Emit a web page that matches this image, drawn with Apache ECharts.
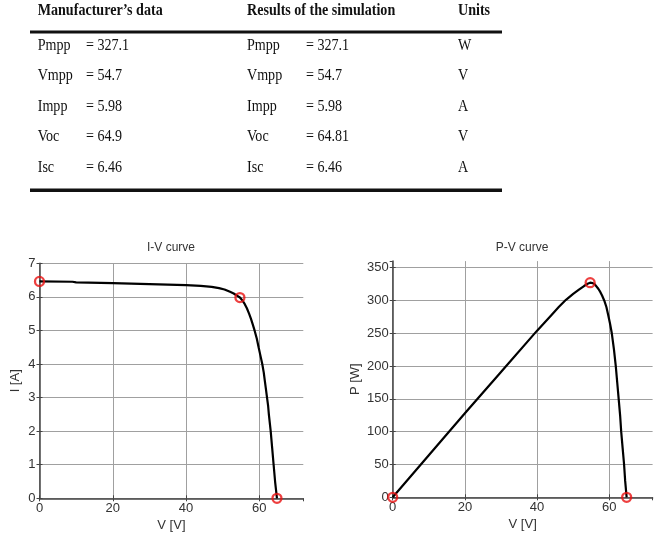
<!DOCTYPE html>
<html lang="en">
<head>
<meta charset="UTF-8">
<title>I-V and P-V curves</title>
<script src="https://cdn.jsdelivr.net/npm/echarts@6/dist/echarts.min.js"></script>
<style>
  body { margin: 0; background: #fff; }
  #main { width: 656px; height: 540px; }
</style>
</head>
<body>
<div id="main"></div>
<script>
// table data
var tableHeaders = ['Manufacturer\u2019s data', 'Results of the simulation', 'Units'];
var paramNames = ['Pmpp', 'Vmpp', 'Impp', 'Voc', 'Isc'];
var manufacturerValues = ['327.1', '54.7', '5.98', '64.9', '6.46'];
var simulationValues = ['327.1', '54.7', '5.98', '64.81', '6.46'];
var unitNames = ['W', 'V', 'A', 'V', 'A'];

// I-V curve
var ivVolt = [0, 9, 10, 20, 30, 40, 44, 47, 49, 50.5, 52, 53, 54, 54.7, 55.4, 56, 56.6, 57.2, 57.7, 58.2, 58.7, 59.3, 59.8, 60.3, 60.8, 61.2, 61.5, 61.8, 62.1, 62.4, 62.6, 63.1, 63.5, 63.9, 64.3, 64.81];
var ivCurr = [6.46, 6.45, 6.43, 6.41, 6.38, 6.35, 6.33, 6.30, 6.26, 6.22, 6.15, 6.10, 6.03, 5.98, 5.89, 5.79, 5.66, 5.5, 5.35, 5.18, 5.0, 4.76, 4.5, 4.25, 4.0, 3.75, 3.5, 3.25, 3.0, 2.75, 2.5, 2.0, 1.5, 1.0, 0.5, 0];

// P-V curve
var pvVolt = [0, 10, 20, 30, 40, 44, 46, 48, 50, 51.5, 53, 54, 54.7, 55.4, 56, 56.5, 57, 57.5, 58, 58.6, 59.2, 59.7, 60.2, 60.7, 61.3, 61.8, 62.2, 62.6, 63.0, 63.3, 63.7, 64.1, 64.4, 64.81];
var pvPower = [0, 64, 128, 191, 254, 278, 290, 301, 310, 316, 322, 325.5, 327.1, 326.5, 324.5, 321.5, 317.5, 313, 307.5, 300, 290, 278, 265, 250, 225, 200, 175, 150, 125, 100, 75, 50, 25, 0];

// marked points: Isc, MPP, Voc
var markVolt = [0, 54.7, 64.81];
var markCurr = [6.46, 5.98, 0];
var markPower = [0, 327.1, 0];

function pairs(xs, ys) {
  return xs.map(function (x, i) { return [x, ys[i]]; });
}

var myChart = echarts.init(document.getElementById('main'));

// table drawn as graphic text
var graphics = [];
var serifBold = 'bold 16px "Liberation Serif"';
var serif = '16px "Liberation Serif"';
var headerX = [37.7, 247, 458];
var rowY = [45.3, 75.8, 106.7, 136.3, 167.8];
function addText(x, y, text, font) {
  graphics.push({
    type: 'text', x: x, y: y, scaleX: 0.88, originX: 0, originY: 0,
    style: { text: text, font: font, fill: '#111', align: 'left', verticalAlign: 'middle' }
  });
}
tableHeaders.forEach(function (h, i) { addText(headerX[i], 10.5, h, serifBold); });
paramNames.forEach(function (p, i) {
  addText(37.7, rowY[i], p, serif);
  addText(86, rowY[i], '= ' + manufacturerValues[i], serif);
  addText(247, rowY[i], p, serif);
  addText(306, rowY[i], '= ' + simulationValues[i], serif);
  addText(458, rowY[i], unitNames[i], serif);
});
graphics.push({ type: 'rect', shape: { x: 30, y: 30.5, width: 472, height: 3 }, style: { fill: '#111' } });
graphics.push({ type: 'rect', shape: { x: 30, y: 188.5, width: 472, height: 3.5 }, style: { fill: '#111' } });

var labelStyle = { color: '#333', fontSize: 13, fontFamily: 'Liberation Sans' };
var nameStyle = { color: '#333', fontSize: 13, fontFamily: 'Liberation Sans' };

function mainX(gi) {
  return {
    type: 'value', gridIndex: gi, min: 0, max: 72, interval: 20,
    name: 'V [V]', nameLocation: 'middle', nameGap: 21, nameTextStyle: nameStyle,
    axisLine: { show: true, onZero: false, lineStyle: { color: '#444', width: 1.5 } },
    axisTick: { show: true, inside: true, length: 3, lineStyle: { color: '#444' } },
    axisLabel: Object.assign({ margin: 4, showMaxLabel: false }, labelStyle),
    splitLine: { show: true, showMaxLine: false, lineStyle: { color: '#a0a0a0', width: 1 } }
  };
}
function topX(gi) {
  return {
    type: 'value', gridIndex: gi, position: 'top', min: 0, max: 72, interval: 20,
    axisLine: { show: false }, axisLabel: { show: false }, splitLine: { show: false },
    axisTick: { show: true, inside: true, length: 3, lineStyle: { color: '#444' } }
  };
}
function mainY(gi, max, interval, name, gap, hideMax) {
  return {
    type: 'value', gridIndex: gi, min: 0, max: max, interval: interval,
    name: name, nameLocation: 'middle', nameGap: gap, nameTextStyle: nameStyle,
    axisLine: { show: true, onZero: false, lineStyle: { color: '#444', width: 1.5 } },
    axisTick: { show: true, inside: true, length: 3, lineStyle: { color: '#444' } },
    axisLabel: Object.assign({ margin: 4, showMaxLabel: !hideMax }, labelStyle),
    splitLine: { show: true, showMaxLine: !hideMax, lineStyle: { color: '#a0a0a0', width: 1 } }
  };
}
function rightY(gi, max, interval) {
  return {
    type: 'value', gridIndex: gi, position: 'right', min: 0, max: max, interval: interval,
    axisLine: { show: false }, axisLabel: { show: false }, splitLine: { show: false },
    axisTick: { show: true, inside: true, length: 3, lineStyle: { color: '#444' } }
  };
}

var markerStyle = { color: 'rgba(0,0,0,0)', borderColor: '#e81010', borderWidth: 2.3 };

var option = {
  animation: false,
  backgroundColor: '#fff',
  graphic: graphics,
  title: [
    { text: 'I-V curve', left: 171, top: 242, textAlign: 'center', padding: 0,
      textStyle: { color: '#333', fontSize: 12, fontWeight: 'normal', fontFamily: 'Liberation Sans' } },
    { text: 'P-V curve', left: 522, top: 242, textAlign: 'center', padding: 0,
      textStyle: { color: '#333', fontSize: 12, fontWeight: 'normal', fontFamily: 'Liberation Sans' } }
  ],
  grid: [
    { left: 39.5, top: 263.3, width: 263.8, height: 235 },
    { left: 392.7, top: 261.1, width: 259.9, height: 236.2 }
  ],
  xAxis: [mainX(0), mainX(1), topX(0), topX(1)],
  yAxis: [
    mainY(0, 7, 1, 'I [A]', 18, false),
    mainY(1, 360, 50, 'P [W]', 31, true),
    rightY(0, 7, 1),
    rightY(1, 360, 50)
  ],
  series: [
    { type: 'line', xAxisIndex: 0, yAxisIndex: 0, data: pairs(ivVolt, ivCurr),
      showSymbol: false, smooth: false,
      lineStyle: { color: '#000', width: 2.2 } },
    { type: 'line', xAxisIndex: 1, yAxisIndex: 1, data: pairs(pvVolt, pvPower),
      showSymbol: false, smooth: false,
      lineStyle: { color: '#000', width: 2.2 } },
    { type: 'scatter', xAxisIndex: 0, yAxisIndex: 0, data: pairs(markVolt, markCurr),
      symbol: 'circle', symbolSize: 9, itemStyle: markerStyle, z: 5 },
    { type: 'scatter', xAxisIndex: 1, yAxisIndex: 1, data: pairs(markVolt, markPower),
      symbol: 'circle', symbolSize: 9, itemStyle: markerStyle, z: 5 }
  ]
};
myChart.setOption(option);
</script>
</body>
</html>
